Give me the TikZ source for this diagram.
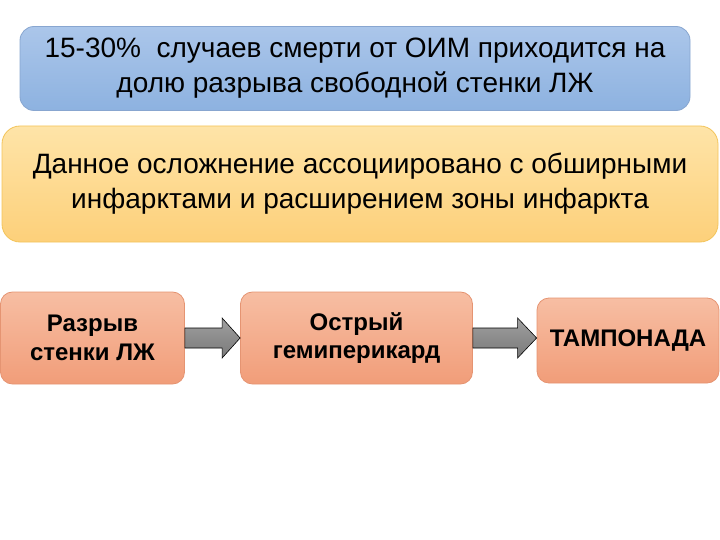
\documentclass[tikz,border=0pt]{standalone}
\usepackage{fontspec}
\setmainfont{Liberation Sans}
\usetikzlibrary{calc}

\definecolor{blueTop}{HTML}{ABC6EA}
\definecolor{blueBot}{HTML}{8DB2E0}
\definecolor{blueLine}{HTML}{88A6D0}
\definecolor{yelTop}{HTML}{FEE4A8}
\definecolor{yelBot}{HTML}{FDD07A}
\definecolor{yelLine}{HTML}{F3C45A}
\definecolor{salTop}{HTML}{F7BEA3}
\definecolor{salBot}{HTML}{F19D79}
\definecolor{salLine}{HTML}{E59472}

\tikzset{
  infobox/.style={rounded corners=14pt, line width=0.8pt, align=center,
    inner sep=0pt, font=\fontsize{28}{35}\selectfont},
  stepbox/.style={rounded corners=12pt, draw=salLine, line width=0.8pt,
    top color=salTop, bottom color=salBot, align=center, inner sep=0pt,
    font=\fontsize{24}{28.5}\selectfont\bfseries},
  blockarrow/.style={draw=black, line width=0.6pt, top color=gray!75,
    bottom color=gray!95!black, line join=miter}
}

\begin{document}
\begin{tikzpicture}[x=1pt, y=-1pt]

% Canvas
\useasboundingbox (0,0) rectangle (720,540);

% Top boxes
\node[infobox, draw=blueLine, top color=blueTop, bottom color=blueBot,
  minimum width=670pt, minimum height=84pt] (stat) at (355,68.5)
  {15-30\%\ \ случаев смерти от ОИМ приходится на\\долю разрыва свободной стенки ЛЖ};

\node[infobox, rounded corners=18pt, draw=yelLine, top color=yelTop, bottom color=yelBot,
  minimum width=716pt, minimum height=116pt] (assoc) at (360,184)
  {Данное осложнение ассоциировано с обширными\\инфарктами и расширением зоны инфаркта};

% Chain of steps
\node[stepbox, minimum width=184pt, minimum height=92pt] (rupture) at (92.5,338)
  {Разрыв\\стенки ЛЖ};
\node[stepbox, minimum width=232pt, minimum height=92pt] (hemo) at (356.5,338)
  {Острый\\гемиперикард};
\node[stepbox, minimum width=182pt, minimum height=85pt] (tamp) at (628,340.5)
  {ТАМПОНАДА};

% Arrows between steps
\draw[blockarrow] ([yshift=10pt]rupture.east) -- ([xshift=-18pt,yshift=10pt]hemo.west)
  -- ([xshift=-18pt,yshift=20pt]hemo.west) -- (hemo.west)
  -- ([xshift=-18pt,yshift=-20pt]hemo.west) -- ([xshift=-18pt,yshift=-10pt]hemo.west)
  -- ([yshift=-10pt]rupture.east) -- cycle;

\coordinate (tip) at (hemo.east -| tamp.west);
\draw[blockarrow] ([yshift=10pt]hemo.east) -- ([xshift=-19pt,yshift=10pt]tip)
  -- ([xshift=-19pt,yshift=20pt]tip) -- (tip)
  -- ([xshift=-19pt,yshift=-20pt]tip) -- ([xshift=-19pt,yshift=-10pt]tip)
  -- ([yshift=-10pt]hemo.east) -- cycle;

\end{tikzpicture}
\end{document}
